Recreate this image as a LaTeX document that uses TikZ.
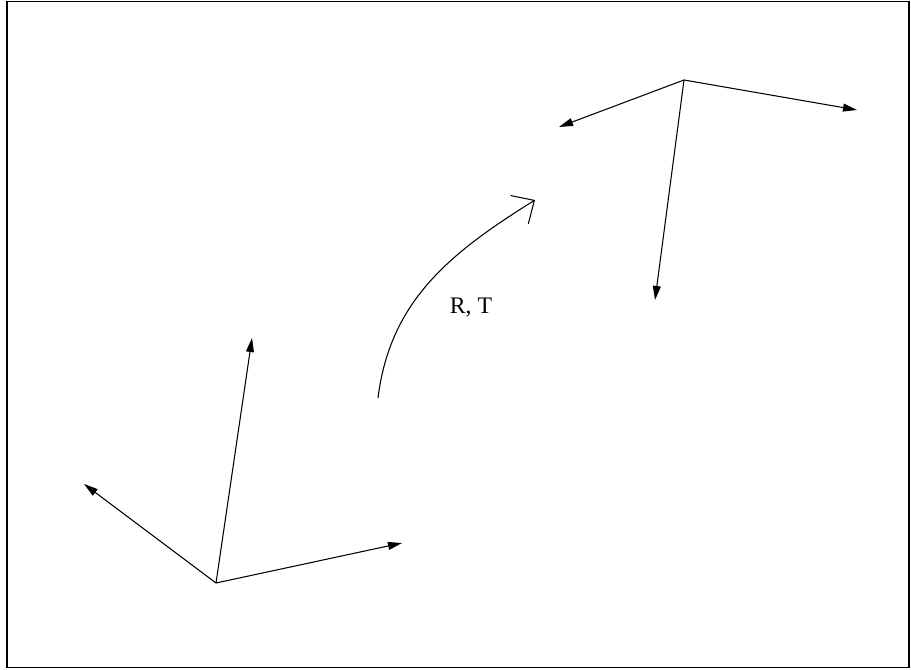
\documentclass[tikz,border=0pt]{standalone}
\usepackage{fontspec}
\setmainfont{Liberation Serif}
\usetikzlibrary{arrows.meta,positioning}
\tikzset{
  axisarrow/.style={
    -{Triangle[length=8pt,width=4.5pt]}, line width=0.6pt, color=black
  },
  motionarrow/.style={
    -{Straight Barb[length=10pt,width=19pt]}, line width=0.6pt, color=black
  },
  framebox/.style={draw=black, line width=1pt},
  motionlabel/.style={font=\fontsize{13.5}{16}\selectfont, inner sep=1pt}
}
\begin{document}
\begin{tikzpicture}[x=0.02cm, y=0.02cm]
  \useasboundingbox (0,0) rectangle (911,669);
  \draw[framebox] (7,1.5) rectangle (909,667.5);
  % first frame
  \coordinate (o1) at (216,86);
  \coordinate (a1) at (252,331);
  \coordinate (b1) at (84,185);
  \coordinate (c1) at (402,126);
  \foreach \t in {a1,b1,c1} { \draw[axisarrow] (o1) -- (\t); }
  % second frame
  \coordinate (o2) at (684,589);
  \coordinate (a2) at (559,542);
  \coordinate (b2) at (857,559);
  \coordinate (c2) at (655,369);
  \foreach \t in {a2,b2,c2} { \draw[axisarrow] (o2) -- (\t); }
  % motion between them
  \coordinate (m1) at (378,271);
  \coordinate (m2) at (535,469);
  \draw[motionarrow] (m1) to[out=83, in=212] (m2);
  \node[motionlabel] (rt) at (471,361) {R, T};
\end{tikzpicture}
\end{document}
